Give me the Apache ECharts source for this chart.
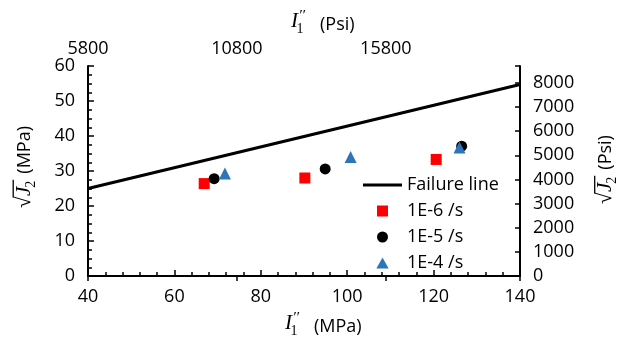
<!DOCTYPE html>
<html><head><meta charset="utf-8">
<script src="https://cdn.jsdelivr.net/npm/echarts@6/dist/echarts.min.js"></script>
<style>html,body{margin:0;padding:0;background:#fff}#c{width:619px;height:338px}</style>
</head><body><div id="c"></div>
<script>
// ---- data ----
const seriesNames = ['Failure line', '1E-6 /s', '1E-5 /s', '1E-4 /s'];
const failureI1 = [40, 140];
const failureJ2 = [25.0, 54.7];
const rate6I1 = [66.9, 90.2, 120.6];
const rate6J2 = [26.4, 28.0, 33.3];
const rate5I1 = [69.2, 94.9, 126.5];
const rate5J2 = [27.8, 30.6, 37.1];
const rate4I1 = [71.7, 100.8, 126.0];
const rate4J2 = [29.3, 34.0, 36.7];
const xRangeMPa = [40, 140];
const yRangeMPa = [0, 60];
const psiPerMPa = 145.0377;
const topTickStartPsi = 5800;
const topTickStepPsi = 5000;
const rightTickStepPsi = 1000;

const zip = (a, b) => a.map((v, i) => [v, b[i]]);

// ---- text measuring for math titles ----
const ctx = document.createElement('canvas').getContext('2d');
function fontStr(f) { return (f.style || 'normal') + ' ' + f.size + 'px "' + f.family + '"'; }
function tw(text, f) { ctx.font = fontStr(f); ctx.textBaseline = 'alphabetic'; return ctx.measureText(text).width; }
function ascent(text, f) { ctx.font = fontStr(f); ctx.textBaseline = 'alphabetic'; return ctx.measureText(text).actualBoundingBoxAscent; }
function midOffset(f) {
  ctx.font = fontStr(f);
  ctx.textBaseline = 'alphabetic';
  const a = ctx.measureText('M').actualBoundingBoxAscent;
  ctx.textBaseline = 'middle';
  const b = ctx.measureText('M').actualBoundingBoxAscent;
  ctx.textBaseline = 'alphabetic';
  return a - b;
}
function txt(text, x, baseY, f) {
  return {
    type: 'text', x: x, y: baseY - midOffset(f),
    style: { text: text, fontFamily: f.family, fontSize: f.size, fontStyle: f.style || 'normal',
             fill: '#000', textAlign: 'left', verticalAlign: 'middle' }
  };
}
const fMathI = { family: 'Liberation Serif', size: 21, style: 'italic' };
const fSub = { family: 'Liberation Serif', size: 14 };
const fPrime = { family: 'Liberation Serif', size: 15, style: 'italic' };
const fUnit = { family: 'Open Sans', size: 18 };
const fRad = { family: 'Liberation Serif', size: 21 };

function i1Title(x, y, unit) {
  const wI = tw('I', fMathI);
  const children = [
    txt('I', 0, 0, fMathI),
    txt('1', wI - 1.5, 6, fSub),
    txt('\u2032\u2032', wI + 0.5, -7.5, fPrime),
    txt(unit, 29, 2.5, fUnit)
  ];
  return { type: 'group', x: x, y: y, children: children };
}
function j2Title(x, y, unit) {
  const wR = tw('\u221A', fRad);
  const wJ = tw('J', fMathI);
  const w2 = tw('2', fSub);
  const aR = ascent('\u221A', fRad);
  const xJ = wR + 0.5;
  const x2 = xJ + wJ - 1;
  const xEnd = x2 + w2 + 1;
  const children = [
    txt('\u221A', 0, 0, fRad),
    txt('J', xJ, 0, fMathI),
    txt('2', x2, 5, fSub),
    { type: 'line', shape: { x1: wR - 1, y1: -aR + 0.7, x2: xEnd, y2: -aR + 0.7 },
      style: { stroke: '#000', lineWidth: 1.3 } },
    txt(unit, xEnd + 6, 0, fUnit)
  ];
  return { type: 'group', x: x, y: y, rotation: Math.PI / 2, children: children };
}

const axisLine = { lineStyle: { color: '#000', width: 2 } };
const labelBase = { color: '#000', fontFamily: 'Open Sans', fontSize: 18 };

const chart = echarts.init(document.getElementById('c'), null, { renderer: 'canvas' });
chart.setOption({
  animation: false,
  backgroundColor: '#fff',
  grid: { left: 88, right: 99, top: 66, bottom: 62, containLabel: false },
  xAxis: [
    { type: 'value', position: 'bottom', min: xRangeMPa[0], max: xRangeMPa[1], interval: 20,
      axisLine: axisLine,
      axisTick: { inside: true, length: 6, lineStyle: { color: '#000', width: 1.5 } },
      minorTick: { show: true, splitNumber: 5, length: 4, lineStyle: { color: '#000', width: 1.5 } },
      splitLine: { show: false }, minorSplitLine: { show: false },
      axisLabel: Object.assign({ margin: 12, formatter: v => String(v) }, labelBase) },
    { type: 'value', position: 'top', min: topTickStartPsi, max: xRangeMPa[1] * psiPerMPa, interval: topTickStepPsi,
      axisLine: axisLine,
      axisTick: { inside: true, length: 5, lineStyle: { color: '#000', width: 1.5 } },
      splitLine: { show: false },
      axisLabel: Object.assign({ margin: 8,
        formatter: v => (Math.abs((v - topTickStartPsi) % topTickStepPsi) < 1e-6 ? String(v) : '') }, labelBase) }
  ],
  yAxis: [
    { type: 'value', position: 'left', min: yRangeMPa[0], max: yRangeMPa[1], interval: 10,
      axisLine: axisLine,
      axisTick: { inside: true, length: 6, lineStyle: { color: '#000', width: 1.5 } },
      minorTick: { show: true, splitNumber: 4, length: 4, lineStyle: { color: '#000', width: 1.5 } },
      splitLine: { show: false }, minorSplitLine: { show: false },
      axisLabel: Object.assign({ margin: 13, formatter: v => String(v) }, labelBase) },
    { type: 'value', position: 'right', min: 0, max: yRangeMPa[1] * psiPerMPa, interval: rightTickStepPsi,
      axisLine: axisLine,
      axisTick: { inside: true, length: 5, lineStyle: { color: '#000', width: 1.5 } },
      splitLine: { show: false },
      axisLabel: Object.assign({ margin: 13,
        formatter: v => (Math.abs(v % rightTickStepPsi) < 1e-6 ? String(v) : '') }, labelBase) }
  ],
  legend: {
    orient: 'vertical', left: 358, top: 171, itemWidth: 39, itemHeight: 11, itemGap: 8,
    symbolKeepAspect: true,
    textStyle: { color: '#000', fontFamily: 'Open Sans', fontSize: 18 },
    data: [
      { name: seriesNames[0], icon: 'path://M0,0L39,0L39,3L0,3Z' },
      { name: seriesNames[1], icon: 'path://M0,0L10,0L10,10L0,10Z' },
      { name: seriesNames[2], icon: 'circle' },
      { name: seriesNames[3], icon: 'path://M5,0L10,9L0,9Z' }
    ]
  },
  series: [
    { name: seriesNames[0], type: 'line', xAxisIndex: 0, yAxisIndex: 0, data: zip(failureI1, failureJ2),
      symbol: 'none', lineStyle: { color: '#000', width: 3 }, itemStyle: { color: '#000' }, z: 2 },
    { name: seriesNames[1], type: 'scatter', xAxisIndex: 0, yAxisIndex: 0, data: zip(rate6I1, rate6J2),
      symbol: 'rect', symbolSize: 11, itemStyle: { color: '#ff0000', opacity: 1 }, z: 3 },
    { name: seriesNames[2], type: 'scatter', xAxisIndex: 0, yAxisIndex: 0, data: zip(rate5I1, rate5J2),
      symbol: 'circle', symbolSize: 11, itemStyle: { color: '#000000', opacity: 1 }, z: 4 },
    { name: seriesNames[3], type: 'scatter', xAxisIndex: 0, yAxisIndex: 0, data: zip(rate4I1, rate4J2),
      symbol: 'triangle', symbolSize: 12, itemStyle: { color: '#2e75b6', opacity: 1 }, z: 5 }
  ],
  graphic: [
    i1Title(285, 329, '(MPa)'),
    i1Title(291, 27, '(Psi)'),
    j2Title(29.5, 208, '(MPa)'),
    j2Title(611, 204, '(Psi)')
  ]
});
</script>
</body></html>
